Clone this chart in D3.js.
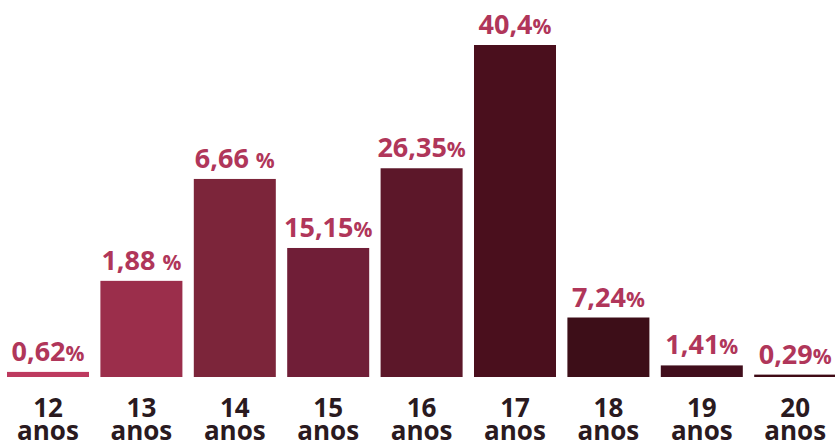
<!DOCTYPE html>
<html>
<head>
<meta charset="utf-8">
<script src="https://cdn.jsdelivr.net/npm/d3@7"></script>
<style>
  html, body { margin: 0; padding: 0; background: #ffffff; }
  svg { display: block; }
</style>
</head>
<body>
<svg id="chart" width="835" height="443"></svg>
<script>
// Data
const ages = ["12", "13", "14", "15", "16", "17", "18", "19", "20"];
const percentLabels = ["0,62", "1,88", "6,66", "15,15", "26,35", "40,4", "7,24", "1,41", "0,29"];
const percentSpace = [false, true, true, false, false, false, false, false, false];
// Bar lengths as drawn in the picture (same units as the largest value, 40,4)
const barHeights = [0.62, 11.7, 24.1, 15.7, 25.4, 40.4, 7.24, 1.41, 0.29];
const barColors = ["#bd3a5f", "#9b2e4b", "#7c253a", "#701e37", "#5c1729", "#4a0f1d", "#3d0e18", "#410e1c", "#3f0a15"];

const svg = d3.select("#chart");
const baseY = 377;

const x = d3.scaleBand()
  .domain(ages)
  .range([7, 836.2])
  .paddingInner(0.122)
  .paddingOuter(0);

const y = d3.scaleLinear()
  .domain([0, 40.4])
  .range([baseY, 45]);

const data = ages.map((a, i) => ({
  age: a, h: barHeights[i], label: percentLabels[i], space: percentSpace[i], color: barColors[i]
}));

svg.selectAll("rect.bar")
  .data(data)
  .join("rect")
  .attr("class", "bar")
  .attr("x", d => x(d.age))
  .attr("width", x.bandwidth())
  .attr("y", d => y(d.h))
  .attr("height", d => baseY - y(d.h))
  .attr("fill", d => d.color);

const lbl = svg.selectAll("text.pct")
  .data(data)
  .join("text")
  .attr("class", "pct")
  .attr("x", d => x(d.age) + x.bandwidth() / 2)
  .attr("y", d => y(d.h) - 11)
  .attr("text-anchor", "middle")
  .attr("font-family", "'Open Sans', sans-serif")
  .attr("font-weight", 700)
  .attr("fill", "#b0365a");

lbl.append("tspan")
  .attr("font-size", 27)
  .text(d => d.label + (d.space ? " " : ""));
lbl.append("tspan")
  .attr("font-size", 21)
  .text("%");

const cat = svg.selectAll("text.cat")
  .data(data)
  .join("text")
  .attr("class", "cat")
  .attr("x", d => x(d.age) + x.bandwidth() / 2)
  .attr("y", 417)
  .attr("text-anchor", "middle")
  .attr("font-family", "'Open Sans', sans-serif")
  .attr("font-weight", 700)
  .attr("font-size", 26)
  .attr("fill", "#2a1a1f");

cat.append("tspan")
  .attr("x", d => x(d.age) + x.bandwidth() / 2)
  .text(d => d.age);
cat.append("tspan")
  .attr("x", d => x(d.age) + x.bandwidth() / 2)
  .attr("dy", 23)
  .text("anos");
</script>
</body>
</html>
